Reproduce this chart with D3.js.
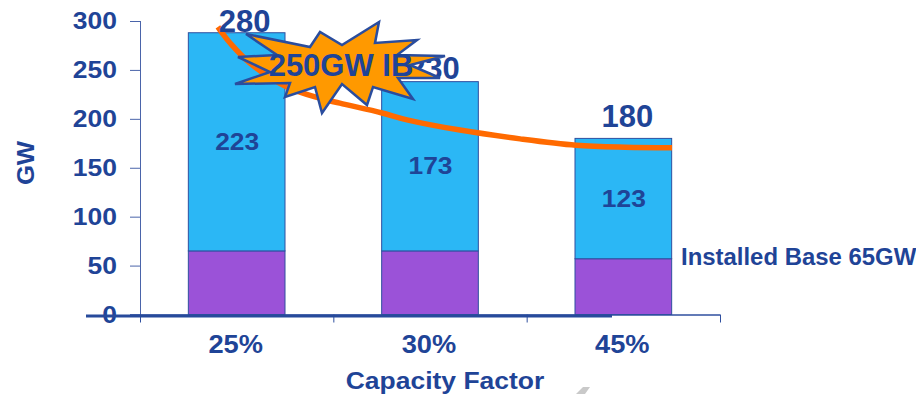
<!DOCTYPE html>
<html>
<head>
<meta charset="utf-8">
<script src="https://cdn.jsdelivr.net/npm/d3@7"></script>
<style>
  html, body { margin: 0; padding: 0; background: #fff; }
  svg { display: block; }
  text { font-family: "Liberation Sans", Arial, sans-serif; font-weight: bold; fill: #1f4497; }
</style>
</head>
<body>
<svg id="chart" width="916" height="394"></svg>
<script>
// Categories and stacked values, in GW
const capacityFactors = ["25%", "30%", "45%"];
const installedBase = [65, 65, 57];
const newBuild = [223, 173, 123];
const totalLabels = ["280", "230", "180"];
const yTicks = [0, 50, 100, 150, 200, 250, 300];

// Demand curve: position along the category axis (1 unit = one category) and GW
const curvePosition = [0.403, 0.424, 0.466, 0.569, 0.76, 0.931, 1.034, 1.252, 1.381, 1.655, 1.966, 2.255, 2.509, 2.752];
const curveGW = [294, 288, 277.5, 257, 232.5, 221, 216, 206, 199, 188.5, 179.5, 173, 171, 170.5];

// Outline of the burst callout, relative to its centre
const burstOutline = [
  [-66, -32], [-2, -19], [8, -34], [30, -21], [67, -44], [63, -23], [105, -26],
  [85, -11], [133, -10], [98, -1], [128, 12], [86, 12], [101, 33], [61, 21],
  [55, 39], [30, 18], [10, 47], [3, 21], [-27, 31], [-22, 17], [-77, 18],
  [-42, 6], [-74, -9], [-35, -11]
];

const svg = d3.select("#chart");
const margin = { left: 140, right: 720, top: 21, bottom: 314.5 };
const ink = "#1f4497";

const y = d3.scaleLinear().domain([0, 300]).range([margin.bottom, margin.top]);
const band = d3.scaleBand().domain(capacityFactors).range([margin.left, margin.right])
  .paddingInner(0.5).paddingOuter(0.25);
const along = d3.scaleLinear().domain([0, 3]).range([margin.left, margin.right]);
const centre = c => band(c) + band.bandwidth() / 2;

// Widens text horizontally about its anchor
function widen(selection, factor) {
  selection
    .attr("lengthAdjust", "spacingAndGlyphs")
    .attr("textLength", function () { return this.getComputedTextLength() * factor; });
}

// Stacked bars
const stackData = capacityFactors.map((c, i) => ({ c, base: installedBase[i], add: newBuild[i] }));
const stack = d3.stack().keys(["base", "add"])(stackData);
const fills = ["#9b52d8", "#2bb7f5"];

svg.append("g").selectAll("g").data(stack).join("g")
  .attr("fill", (d, i) => fills[i])
  .selectAll("rect").data(d => d).join("rect")
  .attr("x", d => band(d.data.c))
  .attr("width", band.bandwidth())
  .attr("y", d => y(d[1]))
  .attr("height", d => y(d[0]) - y(d[1]))
  .attr("stroke", "#2f4f9f")
  .attr("stroke-width", 1);

// Value labels inside the upper segment
svg.append("g").selectAll("text").data(stackData).join("text")
  .attr("x", d => centre(d.c) + 0.5)
  .attr("y", d => y(d.base + d.add / 2) + 8)
  .attr("text-anchor", "middle")
  .style("font-size", "24px")
  .text(d => d.add)
  .call(widen, 1.1);

// Axes
const yAxis = d3.axisLeft(y).tickValues(yTicks).tickSize(10).tickPadding(13);
const gy = svg.append("g").attr("transform", `translate(${margin.left},0)`).call(yAxis);
gy.select(".domain").attr("stroke", "#4a64aa").attr("d", `M0.5,${margin.top}V322`);
gy.selectAll(".tick line").attr("stroke", "#4a64aa");
gy.selectAll(".tick text").style("font-size", "24.5px").attr("fill", ink).call(widen, 1.08);

const xAxis = d3.axisBottom(along).tickValues([0, 1, 2, 3]).tickSize(8).tickFormat("");
const gx = svg.append("g").attr("transform", `translate(0,${margin.bottom})`).call(xAxis);
gx.select(".domain").attr("stroke", "#2f4f9f").attr("stroke-width", 1.5)
  .attr("d", `M130,0.5H${margin.right}`);
gx.selectAll(".tick line").attr("stroke", "#2f4f9f");

// Heavy baseline stroke across the foot of the plot
svg.append("line")
  .attr("x1", 86).attr("x2", 612)
  .attr("y1", 316).attr("y2", 316)
  .attr("stroke", "#274a9b").attr("stroke-width", 3);

// Category labels
svg.append("g").selectAll("text").data(capacityFactors).join("text")
  .attr("x", d => centre(d) - 1)
  .attr("y", 353)
  .attr("text-anchor", "middle")
  .style("font-size", "25px")
  .text(d => d)
  .call(widen, 1.09);

// Axis titles and side note
svg.append("text").attr("x", 445).attr("y", 389).attr("text-anchor", "middle")
  .style("font-size", "24.5px").text("Capacity Factor").call(widen, 1.08);
svg.append("text").attr("transform", "translate(34,163) rotate(-90)").attr("text-anchor", "middle")
  .style("font-size", "24px").text("GW").call(widen, 1.07);
svg.append("text").attr("x", 681).attr("y", 265)
  .style("font-size", "23px").text("Installed Base 65GW").call(widen, 1.04);

// Curve
const curve = d3.line().x((d, i) => along(curvePosition[i])).y(d => y(d)).curve(d3.curveCatmullRom);

svg.append("path").datum(curveGW)
  .attr("d", curve)
  .attr("fill", "none")
  .attr("stroke", "#ff6a00")
  .attr("stroke-width", 5.5);

// Totals above the bars
const totalShift = [8, 4, 4];
const totalBaseline = [32, 79, 127];
svg.append("g").selectAll("text").data(totalLabels).join("text")
  .attr("x", (d, i) => centre(capacityFactors[i]) + totalShift[i])
  .attr("y", (d, i) => totalBaseline[i])
  .attr("text-anchor", "middle")
  .style("font-size", "31px")
  .text(d => d);

// Burst callout
svg.append("polygon")
  .attr("points", burstOutline.map(([dx, dy]) => [312 + dx, 66 + dy].join(",")).join(" "))
  .attr("fill", "#ff9900")
  .attr("stroke", "#2a4d9e")
  .attr("stroke-width", 2.5)
  .attr("stroke-linejoin", "miter");
svg.append("text").attr("x", 341).attr("y", 76).attr("text-anchor", "middle")
  .style("font-size", "31px").text("250GW IB");

// Faint grey stroke clipped at the bottom edge
svg.append("path").attr("d", "M576,394L583,387H590L585,394Z").attr("fill", "#c9c9c9");
</script>
</body>
</html>
